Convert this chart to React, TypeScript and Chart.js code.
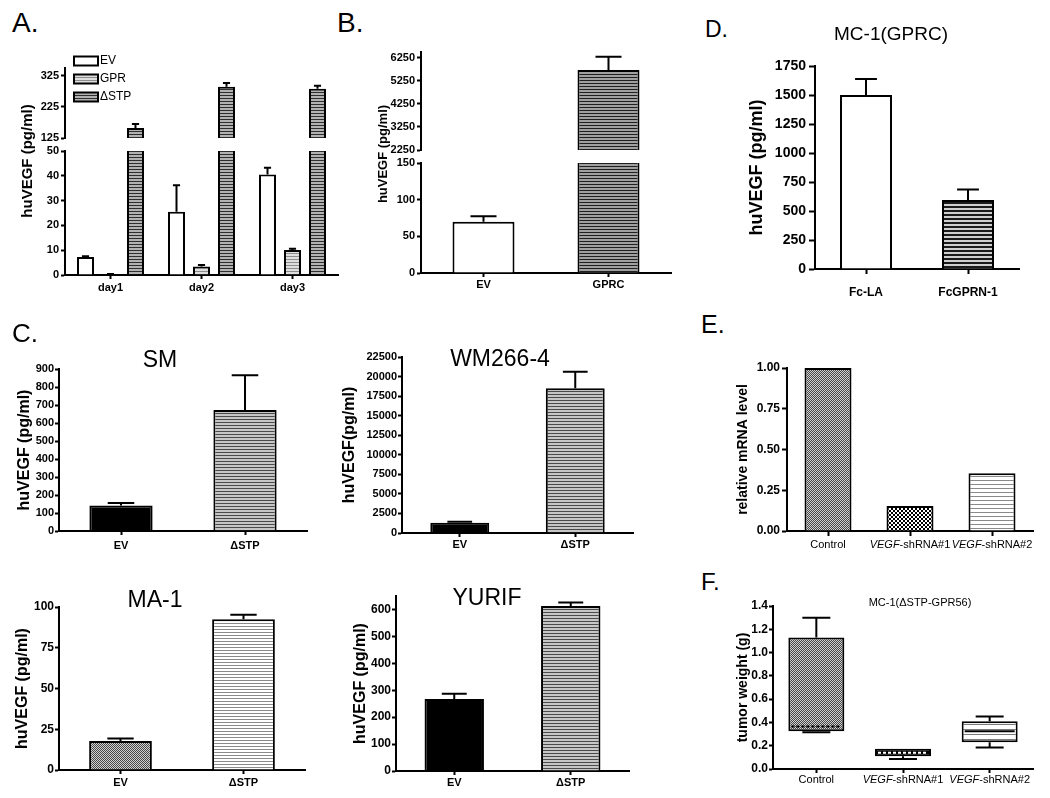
import React, { useEffect, useRef } from 'react';
import { Chart, registerables } from 'chart.js';

Chart.register(...registerables);

const FONT = "'Liberation Sans', Arial, Helvetica, sans-serif";
Chart.defaults.font.family = FONT;
Chart.defaults.color = '#000';

// ---------------- Panel A ----------------
const A_DAYS = ['day1', 'day2', 'day3'];
const A_SERIES = ['EV', 'GPR', 'ΔSTP'];
const A_EV = [7.3, 25.5, 40.5];
const A_EV_ERR = [7.6, 36.2, 43.2];
const A_GPR = [0.3, 3.4, 10.1];
const A_GPR_ERR = [0.4, 4.0, 10.6];
const A_DSTP = [157, 290, 283];
const A_DSTP_ERR = [170, 302, 293];
const A_RANGE_TOP = [125, 350];
const A_TICKS_TOP = [125, 225, 325];
const A_RANGE_BOTTOM = [0, 50];
const A_TICKS_BOTTOM = [0, 10, 20, 30, 40, 50];

// ---------------- Panel B ----------------
const B_GROUPS = ['EV', 'GPRC'];
const B_VALUES = [70, 5720];
const B_ERR = [77.5, 6295];
const B_RANGE_TOP = [2250, 6500];
const B_TICKS_TOP = [2250, 3250, 4250, 5250, 6250];
const B_RANGE_BOTTOM = [0, 150];
const B_TICKS_BOTTOM = [0, 50, 100, 150];

// ---------------- Panel D ----------------
const D_GROUPS = ['Fc-LA', 'FcGPRN-1'];
const D_VALUES = [1500, 595];
const D_ERR = [1638, 685];
const D_RANGE = [0, 1750];
const D_TICKS = [0, 250, 500, 750, 1000, 1250, 1500, 1750];

// ---------------- Panel C ----------------
const C_GROUPS = ['EV', 'ΔSTP'];
const SM_VALUES = [142, 672];
const SM_ERR = [156, 865];
const SM_RANGE = [0, 900];
const SM_TICKS = [0, 100, 200, 300, 400, 500, 600, 700, 800, 900];

const WM_VALUES = [1300, 18500];
const WM_ERR = [1450, 20600];
const WM_RANGE = [0, 22500];
const WM_TICKS = [0, 2500, 5000, 7500, 10000, 12500, 15000, 17500, 20000, 22500];

const MA_VALUES = [17.8, 92.5];
const MA_ERR = [19.3, 95.3];
const MA_RANGE = [0, 100];
const MA_TICKS = [0, 25, 50, 75, 100];

const YU_VALUES = [267, 613];
const YU_ERR = [287, 626];
const YU_RANGE = [0, 650];
const YU_TICKS = [0, 100, 200, 300, 400, 500, 600];

// ---------------- Panel E ----------------
const E_GROUPS = ['Control', 'VEGF-shRNA#1', 'VEGF-shRNA#2'];
const E_VALUES = [1.0, 0.153, 0.354];
const E_RANGE = [0, 1];
const E_TICKS = [0, 0.25, 0.5, 0.75, 1];

// ---------------- Panel F ----------------
const F_GROUPS = ['Control', 'VEGF-shRNA#1', 'VEGF-shRNA#2'];
const F_MIN = [0.315, 0.085, 0.185];
const F_Q1 = [0.325, 0.11, 0.23];
const F_MEDIAN = [0.365, 0.14, 0.325];
const F_Q3 = [1.13, 0.175, 0.41];
const F_MAX = [1.3, 0.175, 0.45];
const F_RANGE = [0, 1.4];
const F_TICKS = [0, 0.2, 0.4, 0.6, 0.8, 1.0, 1.2, 1.4];

const ITALIC_WORD = 'VEGF';

// ---------------- helpers ----------------
type Pad = { l: number; t: number; r: number; b: number };
type Geo = { l: number; t: number; r: number; b: number; yW: number; xH: number; pad: Pad };

const rectOf = (g: Geo) => ({
  left: g.l - g.yW - g.pad.l,
  top: g.t - g.pad.t,
  width: g.r - g.l + g.yW + g.pad.l + g.pad.r,
  height: g.b - g.t + g.xH + g.pad.t + g.pad.b,
});

function makePatterns() {
  const mk = (w: number, h: number, draw: (g: CanvasRenderingContext2D) => void) => {
    const c = document.createElement('canvas');
    c.width = w;
    c.height = h;
    const g = c.getContext('2d') as CanvasRenderingContext2D;
    draw(g);
    return g.createPattern(c, 'repeat') as CanvasPattern;
  };
  const stripe = (line: string, bg: string, period: number, lh = 1) =>
    mk(4, period, (g) => {
      g.fillStyle = bg;
      g.fillRect(0, 0, 4, period);
      g.fillStyle = line;
      g.fillRect(0, 0, 4, lh);
    });
  const check = (a: string, b: string, cell: number) =>
    mk(cell * 2, cell * 2, (g) => {
      g.fillStyle = b;
      g.fillRect(0, 0, cell * 2, cell * 2);
      g.fillStyle = a;
      g.fillRect(0, 0, cell, cell);
      g.fillRect(cell, cell, cell, cell);
    });
  return {
    stripeA: stripe('#2e2e2e', '#b2b2b2', 3),
    stripeGPR: stripe('#8c8c8c', '#dedede', 3),
    stripeDark: stripe('#202020', '#a0a0a0', 3),
    stripeD: stripe('#1a1a1a', '#cfcfcf', 4, 2),
    stripeMid: stripe('#4a4a4a', '#c6c6c6', 3),
    stripeLight3: stripe('#8a8a8a', '#ffffff', 3),
    stripeLight4: stripe('#8a8a8a', '#ffffff', 4),
    stripeLight5: stripe('#7a7a7a', '#ffffff', 5),
    checkFine: check('#474747', '#d2d2d2', 1),
    checkCoarse: check('#000000', '#ffffff', 2),
  };
}

function yScale(o: any) {
  return {
    type: 'linear',
    position: 'left',
    min: o.range[0],
    max: o.range[1],
    afterBuildTicks: (s: any) => {
      s.ticks = o.ticks.map((v: number) => ({ value: v }));
    },
    afterFit: (s: any) => {
      s.width = o.yW;
    },
    ticks: {
      autoSkip: false,
      padding: o.tpad,
      color: '#000',
      font: { family: FONT, size: o.size, weight: 'bold' },
      callback: (v: any) => Number(v).toFixed(o.dec),
    },
    grid: { display: true, drawOnChartArea: false, drawTicks: true, tickLength: o.tl, tickWidth: 2, tickColor: '#000' },
    border: { display: true, color: '#000', width: 2 },
    title: o.title
      ? { display: true, text: o.title.text, color: '#000', padding: 0, font: { family: FONT, size: o.title.size, weight: 'bold', lineHeight: 1.2 } }
      : { display: false },
  };
}

function xScale(o: any) {
  return {
    type: 'category',
    offset: true,
    display: o.show,
    afterFit: (s: any) => {
      s.height = o.xH;
    },
    ticks: {
      display: !o.hideLabels,
      autoSkip: false,
      maxRotation: 0,
      padding: o.pad ?? 2,
      color: '#000',
      font: { family: FONT, size: o.size ?? 11, weight: 'bold' },
    },
    grid: { display: true, offset: false, drawOnChartArea: false, drawTicks: true, tickLength: o.tl ?? 4, tickWidth: 2, tickColor: '#000' },
    border: { display: true, color: '#000', width: 2 },
  };
}

function barDs(label: string, data: any[], bg: any, err: number[] | null, catPct: number, barPct: number, extra: any = {}) {
  return {
    label,
    data,
    backgroundColor: bg,
    borderColor: '#000',
    borderWidth: 2,
    errorBars: err,
    categoryPercentage: catPct,
    barPercentage: barPct,
    ...extra,
  };
}

function cfg(o: any) {
  const g: Geo = o.geo;
  return {
    type: 'bar',
    data: { labels: o.labels, datasets: o.datasets },
    options: {
      responsive: false,
      maintainAspectRatio: false,
      animation: false,
      layout: { padding: { left: g.pad.l, top: g.pad.t, right: g.pad.r, bottom: g.pad.b } },
      plugins: { legend: { display: false }, tooltip: { enabled: false }, title: { display: false } },
      scales: { x: o.x, y: o.y },
    },
    plugins: o.plugins,
  };
}

// ---------------- plugins ----------------
const errorBarPlugin = {
  id: 'errorBars',
  afterDatasetsDraw(chart: any) {
    const { ctx, chartArea } = chart;
    ctx.save();
    ctx.beginPath();
    ctx.rect(chartArea.left - 2, chartArea.top - 3, chartArea.right - chartArea.left + 4, chartArea.bottom - chartArea.top + 3);
    ctx.clip();
    chart.data.datasets.forEach((ds: any, di: number) => {
      const errs = ds.errorBars;
      if (!errs) return;
      const meta = chart.getDatasetMeta(di);
      const ys = chart.scales[meta.yAxisID];
      meta.data.forEach((bar: any, i: number) => {
        const e = errs[i];
        if (e == null) return;
        const y0 = ys.getPixelForValue(ds.data[i]);
        const y1 = ys.getPixelForValue(e);
        const cap = bar.width * 0.42;
        ctx.strokeStyle = '#000';
        ctx.lineWidth = 2;
        ctx.beginPath();
        ctx.moveTo(bar.x, y0);
        ctx.lineTo(bar.x, y1);
        ctx.moveTo(bar.x - cap / 2, y1);
        ctx.lineTo(bar.x + cap / 2, y1);
        ctx.stroke();
      });
    });
    ctx.restore();
  },
};

type TextItem = { text: string; dx: number; dy: number; size: number; bold?: boolean; rotate?: boolean };
function textPlugin(items: TextItem[]) {
  return {
    id: 'freeText',
    afterDraw(chart: any) {
      const { ctx, chartArea } = chart;
      items.forEach((it) => {
        ctx.save();
        ctx.font = `${it.bold ? 'bold ' : ''}${it.size}px ${FONT}`;
        ctx.fillStyle = '#000';
        ctx.textAlign = 'center';
        ctx.textBaseline = 'middle';
        ctx.translate(chartArea.left + it.dx, chartArea.top + it.dy);
        if (it.rotate) ctx.rotate(-Math.PI / 2);
        ctx.fillText(it.text, 0, 0);
        ctx.restore();
      });
    },
  };
}

function legendPlugin(o: { dx: number; dy: number; gap: number; w: number; h: number; size: number }) {
  return {
    id: 'swatchLegend',
    afterDraw(chart: any) {
      const { ctx, chartArea } = chart;
      chart.data.datasets.forEach((ds: any, i: number) => {
        const x = chartArea.left + o.dx;
        const cy = chartArea.top + o.dy + i * o.gap;
        ctx.save();
        ctx.fillStyle = ds.backgroundColor;
        ctx.fillRect(x, cy - o.h / 2, o.w, o.h);
        ctx.strokeStyle = '#000';
        ctx.lineWidth = 2;
        ctx.strokeRect(x, cy - o.h / 2, o.w, o.h);
        ctx.font = `${o.size}px ${FONT}`;
        ctx.fillStyle = '#000';
        ctx.textAlign = 'left';
        ctx.textBaseline = 'middle';
        ctx.fillText(ds.label, x + o.w + 2, cy);
        ctx.restore();
      });
    },
  };
}

function italicLabels(word: string, size: number, dy: number) {
  return {
    id: 'italicLabels',
    afterDraw(chart: any) {
      const { ctx, chartArea } = chart;
      const xs = chart.scales.x;
      (chart.data.labels as string[]).forEach((lab, i) => {
        const parts: [string, boolean][] = lab.startsWith(word) ? [[word, true], [lab.slice(word.length), false]] : [[lab, false]];
        const fonts = parts.map(([, it]) => `${it ? 'italic ' : ''}${size}px ${FONT}`);
        ctx.save();
        ctx.fillStyle = '#000';
        ctx.textBaseline = 'middle';
        ctx.textAlign = 'left';
        let total = 0;
        const widths = parts.map(([t], k) => {
          ctx.font = fonts[k];
          const w = ctx.measureText(t).width;
          total += w;
          return w;
        });
        let x = xs.getPixelForTick(i) - total / 2;
        const y = chartArea.bottom + dy;
        parts.forEach(([t], k) => {
          ctx.font = fonts[k];
          ctx.fillText(t, x, y);
          x += widths[k];
        });
        ctx.restore();
      });
    },
  };
}

function boxPlugin(lo: number[], hi: number[], med: number[], medColor: string[], medDash: number[][]) {
  return {
    id: 'whiskers',
    afterDatasetsDraw(chart: any) {
      const meta = chart.getDatasetMeta(0);
      const ys = chart.scales.y;
      const ctx = chart.ctx;
      const data = chart.data.datasets[0].data;
      meta.data.forEach((el: any, i: number) => {
        const x = el.x;
        const w = el.width;
        const [q1, q3] = data[i];
        const cap = w * 0.5;
        ctx.save();
        ctx.strokeStyle = '#000';
        ctx.lineWidth = 2;
        ctx.beginPath();
        if (hi[i] > q3) {
          const a = ys.getPixelForValue(q3);
          const b = ys.getPixelForValue(hi[i]);
          ctx.moveTo(x, a);
          ctx.lineTo(x, b);
          ctx.moveTo(x - cap / 2, b);
          ctx.lineTo(x + cap / 2, b);
        }
        if (lo[i] < q1) {
          const a = ys.getPixelForValue(q1);
          const b = ys.getPixelForValue(lo[i]);
          ctx.moveTo(x, a);
          ctx.lineTo(x, b);
          ctx.moveTo(x - cap / 2, b);
          ctx.lineTo(x + cap / 2, b);
        }
        ctx.stroke();
        const ym = ys.getPixelForValue(med[i]);
        ctx.beginPath();
        ctx.strokeStyle = medColor[i];
        ctx.setLineDash(medDash[i]);
        ctx.moveTo(x - w / 2 + 3, ym);
        ctx.lineTo(x + w / 2 - 3, ym);
        ctx.stroke();
        ctx.restore();
      });
    },
  };
}

// ---------------- geometry ----------------
const G_A_TOP: Geo = { l: 65, t: 68, r: 338, b: 138, yW: 40, xH: 0, pad: { l: 8, t: 30, r: 12, b: 162 } };
const G_A_BOT: Geo = { l: 65, t: 151, r: 338, b: 275, yW: 40, xH: 26, pad: { l: 8, t: 12, r: 12, b: 6 } };
const G_B_TOP: Geo = { l: 421, t: 52, r: 671, b: 150, yW: 40, xH: 0, pad: { l: 8, t: 14, r: 12, b: 70 } };
const G_B_BOT: Geo = { l: 421, t: 163, r: 671, b: 273, yW: 40, xH: 26, pad: { l: 8, t: 12, r: 12, b: 6 } };
const G_D: Geo = { l: 815, t: 66, r: 1019, b: 269, yW: 69, xH: 36, pad: { l: 8, t: 48, r: 12, b: 6 } };
const G_SM: Geo = { l: 59, t: 369, r: 307, b: 531, yW: 44, xH: 26, pad: { l: 6, t: 22, r: 12, b: 6 } };
const G_WM: Geo = { l: 402, t: 357, r: 633, b: 533, yW: 62, xH: 26, pad: { l: 8, t: 14, r: 12, b: 6 } };
const G_MA: Geo = { l: 59, t: 607, r: 305, b: 770, yW: 46, xH: 22, pad: { l: 6, t: 20, r: 12, b: 4 } };
const G_YU: Geo = { l: 396, t: 596, r: 629, b: 771, yW: 45, xH: 22, pad: { l: 8, t: 14, r: 12, b: 4 } };
const G_E: Geo = { l: 787, t: 368, r: 1033, b: 531, yW: 52, xH: 24, pad: { l: 8, t: 12, r: 12, b: 6 } };
const G_F: Geo = { l: 773, t: 606, r: 1033, b: 769, yW: 38, xH: 22, pad: { l: 8, t: 12, r: 12, b: 4 } };

type Pats = ReturnType<typeof makePatterns>;

const aDatasets = (P: Pats) => [
  barDs(A_SERIES[0], A_EV, '#ffffff', A_EV_ERR, 0.824, 0.68, { clip: 0 }),
  barDs(A_SERIES[1], A_GPR, P.stripeGPR, A_GPR_ERR, 0.824, 0.68, { clip: 0 }),
  barDs(A_SERIES[2], A_DSTP, P.stripeA, A_DSTP_ERR, 0.824, 0.68, { clip: 0 }),
];
const bDatasets = (P: Pats) => [barDs('huVEGF', B_VALUES, ['#ffffff', P.stripeDark], B_ERR, 1, 0.496, { clip: 0 })];

const cChart = (geo: Geo, values: number[], errs: number[], bg: any[], range: number[], ticks: number[], yTitle: string, title: string, tdx: number, tdy: number, xpad: number, tsize: number) =>
  cfg({
    labels: C_GROUPS,
    datasets: [barDs('huVEGF', values, bg, errs, 1, 0.51)],
    geo,
    x: xScale({ show: true, xH: geo.xH, size: 11, pad: xpad, tl: 4 }),
    y: yScale({ range, ticks, dec: 0, size: tsize, yW: geo.yW, tl: 4, tpad: 1, title: { text: yTitle, size: 16 } }),
    plugins: [errorBarPlugin, textPlugin([{ text: title, dx: tdx, dy: tdy, size: 23 }])],
  });

const SPECS: { geo: Geo; make: (P: Pats) => any }[] = [
  {
    geo: G_A_TOP,
    make: (P) =>
      cfg({
        labels: A_DAYS,
        datasets: aDatasets(P),
        geo: G_A_TOP,
        x: xScale({ show: false, xH: 0 }),
        y: yScale({ range: A_RANGE_TOP, ticks: A_TICKS_TOP, dec: 0, size: 11, yW: G_A_TOP.yW, tl: 4, tpad: 2 }),
        plugins: [
          errorBarPlugin,
          legendPlugin({ dx: 9, dy: -7, gap: 18, w: 24, h: 9, size: 12 }),
          textPlugin([{ text: 'huVEGF (pg/ml)', dx: -37, dy: 93, size: 15, bold: true, rotate: true }]),
        ],
      }),
  },
  {
    geo: G_A_BOT,
    make: (P) =>
      cfg({
        labels: A_DAYS,
        datasets: aDatasets(P),
        geo: G_A_BOT,
        x: xScale({ show: true, xH: G_A_BOT.xH, size: 11, pad: 2, tl: 4 }),
        y: yScale({ range: A_RANGE_BOTTOM, ticks: A_TICKS_BOTTOM, dec: 0, size: 11, yW: G_A_BOT.yW, tl: 4, tpad: 2 }),
        plugins: [errorBarPlugin],
      }),
  },
  {
    geo: G_B_TOP,
    make: (P) =>
      cfg({
        labels: B_GROUPS,
        datasets: bDatasets(P),
        geo: G_B_TOP,
        x: xScale({ show: false, xH: 0 }),
        y: yScale({ range: B_RANGE_TOP, ticks: B_TICKS_TOP, dec: 0, size: 11, yW: G_B_TOP.yW, tl: 4, tpad: 2 }),
        plugins: [errorBarPlugin, textPlugin([{ text: 'huVEGF (pg/ml)', dx: -38, dy: 102, size: 13, bold: true, rotate: true }])],
      }),
  },
  {
    geo: G_B_BOT,
    make: (P) =>
      cfg({
        labels: B_GROUPS,
        datasets: bDatasets(P),
        geo: G_B_BOT,
        x: xScale({ show: true, xH: G_B_BOT.xH, size: 11, pad: 1, tl: 4 }),
        y: yScale({ range: B_RANGE_BOTTOM, ticks: B_TICKS_BOTTOM, dec: 0, size: 11, yW: G_B_BOT.yW, tl: 4, tpad: 2 }),
        plugins: [errorBarPlugin],
      }),
  },
  {
    geo: G_D,
    make: (P) =>
      cfg({
        labels: D_GROUPS,
        datasets: [barDs('huVEGF', D_VALUES, ['#ffffff', P.stripeD], D_ERR, 1, 0.51)],
        geo: G_D,
        x: xScale({ show: true, xH: G_D.xH, size: 12, pad: 11, tl: 5 }),
        y: yScale({ range: D_RANGE, ticks: D_TICKS, dec: 0, size: 14, yW: G_D.yW, tl: 6, tpad: 3, title: { text: 'huVEGF (pg/ml)', size: 18 } }),
        plugins: [errorBarPlugin, textPlugin([{ text: 'MC-1(GPRC)', dx: 76, dy: -31, size: 19 }])],
      }),
  },
  {
    geo: G_SM,
    make: (P) => cChart(G_SM, SM_VALUES, SM_ERR, ['#000000', P.stripeMid], SM_RANGE, SM_TICKS, 'huVEGF (pg/ml)', 'SM', 101, -8, 4, 11),
  },
  {
    geo: G_WM,
    make: (P) => cChart(G_WM, WM_VALUES, WM_ERR, ['#000000', P.stripeMid], WM_RANGE, WM_TICKS, 'huVEGF(pg/ml)', 'WM266-4', 98, 3, 1, 11),
  },
  {
    geo: G_MA,
    make: (P) => cChart(G_MA, MA_VALUES, MA_ERR, [P.checkFine, P.stripeLight3], MA_RANGE, MA_TICKS, 'huVEGF (pg/ml)', 'MA-1', 96, -6, 2, 12),
  },
  {
    geo: G_YU,
    make: (P) => cChart(G_YU, YU_VALUES, YU_ERR, ['#000000', P.stripeMid], YU_RANGE, YU_TICKS, 'huVEGF (pg/ml)', 'YURIF', 91, 3, 1, 12),
  },
  {
    geo: G_E,
    make: (P) =>
      cfg({
        labels: E_GROUPS,
        datasets: [barDs('mRNA', E_VALUES, [P.checkFine, P.checkCoarse, P.stripeLight4], null, 1, 0.573)],
        geo: G_E,
        x: xScale({ show: true, xH: G_E.xH, hideLabels: true, tl: 5 }),
        y: yScale({ range: E_RANGE, ticks: E_TICKS, dec: 2, size: 12, yW: G_E.yW, tl: 5, tpad: 2, title: { text: 'relative mRNA level', size: 14 } }),
        plugins: [italicLabels(ITALIC_WORD, 11, 14)],
      }),
  },
  {
    geo: G_F,
    make: (P) =>
      cfg({
        labels: F_GROUPS,
        datasets: [
          barDs('tumor weight', F_Q1.map((q, i) => [q, F_Q3[i]]), [P.checkFine, '#000000', P.stripeLight5], null, 1, 0.646, { borderSkipped: false }),
        ],
        geo: G_F,
        x: xScale({ show: true, xH: G_F.xH, hideLabels: true, tl: 4 }),
        y: yScale({ range: F_RANGE, ticks: F_TICKS, dec: 1, size: 12, yW: G_F.yW, tl: 4, tpad: 1, title: { text: 'tumor weight (g)', size: 14 } }),
        plugins: [
          boxPlugin(F_MIN, F_MAX, F_MEDIAN, ['#000000', '#ffffff', '#000000'], [[3, 2], [3, 2], []]),
          italicLabels(ITALIC_WORD, 11, 11),
          textPlugin([{ text: 'MC-1(ΔSTP-GPR56)', dx: 147, dy: -3, size: 11 }]),
        ],
      }),
  },
];

const LETTERS = [
  { t: 'A.', x: 12, y: 9, s: 28 },
  { t: 'B.', x: 337, y: 9, s: 28 },
  { t: 'C.', x: 12, y: 320, s: 26 },
  { t: 'D.', x: 705, y: 18, s: 23 },
  { t: 'E.', x: 701, y: 312, s: 25 },
  { t: 'F.', x: 701, y: 570, s: 24 },
];

export default function App() {
  const refs = useRef<(HTMLCanvasElement | null)[]>([]);

  useEffect(() => {
    const P = makePatterns();
    const charts = SPECS.map((s, i) => new Chart(refs.current[i] as HTMLCanvasElement, s.make(P) as any));
    return () => charts.forEach((c) => c.destroy());
  }, []);

  return (
    <div style={{ position: 'fixed', left: 0, top: 0, width: 1050, height: 798, background: '#ffffff', overflow: 'hidden' }}>
      {SPECS.map((s, i) => {
        const r = rectOf(s.geo);
        return (
          <canvas
            key={i}
            ref={(el) => {
              refs.current[i] = el;
            }}
            width={r.width}
            height={r.height}
            style={{ position: 'absolute', left: r.left, top: r.top, width: r.width, height: r.height }}
          />
        );
      })}
      {LETTERS.map((l) => (
        <div
          key={l.t}
          style={{ position: 'absolute', left: l.x, top: l.y, fontFamily: FONT, fontSize: l.s, lineHeight: 1, color: '#000' }}
        >
          {l.t}
        </div>
      ))}
    </div>
  );
}
